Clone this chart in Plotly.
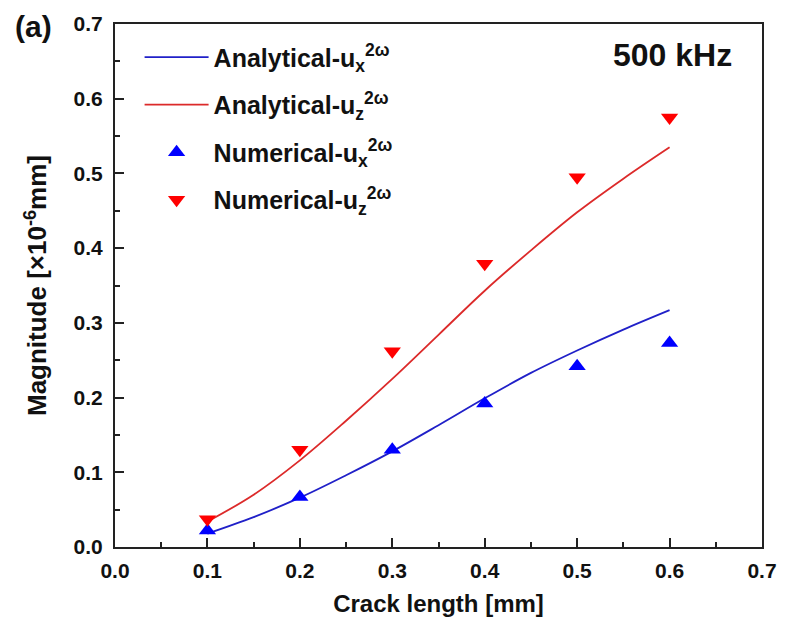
import plotly.graph_objects as go

# Analytical curves
x_line = [0.1, 0.15, 0.2, 0.25, 0.3, 0.35, 0.4, 0.45, 0.5, 0.55, 0.6]
ana_ux = [0.018, 0.040, 0.066, 0.096, 0.128, 0.163, 0.199, 0.233, 0.263, 0.291, 0.317]
ana_uz = [0.034, 0.070, 0.116, 0.169, 0.225, 0.284, 0.343, 0.397, 0.448, 0.493, 0.535]

# Numerical points
x_num = [0.1, 0.2, 0.3, 0.4, 0.5, 0.6]
num_ux = [0.022, 0.067, 0.130, 0.192, 0.242, 0.273]
num_uz = [0.037, 0.130, 0.262, 0.379, 0.495, 0.575]

x_ticks = [0.0, 0.1, 0.2, 0.3, 0.4, 0.5, 0.6, 0.7]
y_ticks = [0.0, 0.1, 0.2, 0.3, 0.4, 0.5, 0.6, 0.7]

FONT = "Liberation Sans, Arial, sans-serif"

fig = go.Figure()
fig.add_trace(go.Scatter(x=x_line, y=ana_ux, mode="lines", legendgroup="a",
                         line=dict(color="#2020c8", width=1.8, shape="spline"),
                         name="<b>Analytical-u<sub>x</sub><sup>2ω</sup></b>"))
fig.add_trace(go.Scatter(x=x_line, y=ana_uz, mode="lines", legendgroup="b",
                         line=dict(color="#dc2a2a", width=1.8, shape="spline"),
                         name="<b>Analytical-u<sub>z</sub><sup>2ω</sup></b>"))
fig.add_trace(go.Scatter(x=x_num, y=num_ux, mode="markers", legendgroup="c",
                         marker=dict(symbol="triangle-up", color="#0000ff", size=15),
                         name="<b>Numerical-u<sub>x</sub><sup>2ω</sup></b>"))
fig.add_trace(go.Scatter(x=x_num, y=num_uz, mode="markers", legendgroup="d",
                         marker=dict(symbol="triangle-down", color="#ff0000", size=15),
                         name="<b>Numerical-u<sub>z</sub><sup>2ω</sup></b>"))

axis_common = dict(
    showgrid=False, zeroline=False, showline=True, linecolor="#222", linewidth=2, mirror=True,
    ticks="inside", ticklen=9, tickwidth=2, tickcolor="#222",
    tickfont=dict(family=FONT, size=21, color="#111"),
    minor=dict(ticks="inside", ticklen=5, tickwidth=2, tickcolor="#222", dtick=0.05),
)

fig.update_xaxes(range=[0, 0.7], tickvals=x_ticks, ticktext=["<b>%.1f</b>" % v for v in x_ticks],
                 ticklabelstandoff=4,
                 title=dict(text="<b>Crack length [mm]</b>", font=dict(family=FONT, size=24, color="#111"), standoff=14),
                 **axis_common)
fig.update_yaxes(range=[0, 0.7], tickvals=y_ticks, ticktext=["<b>%.1f</b>" % v for v in y_ticks],
                 ticklabelstandoff=6,
                 title=dict(text="<b>Magnitude [×10<sup>-6</sup>mm]</b>", font=dict(family=FONT, size=26, color="#111"), standoff=19),
                 **axis_common)

fig.update_layout(
    width=789, height=631,
    margin=dict(l=115, r=19, t=21, b=84),
    plot_bgcolor="white", paper_bgcolor="white",
    font=dict(family=FONT, color="#111"),
    legend=dict(x=0.038, y=0.98, xanchor="left", yanchor="top", bgcolor="rgba(0,0,0,0)",
                font=dict(family=FONT, size=25, color="#111"), itemwidth=64, tracegroupgap=12),
    annotations=[
        dict(text="<b>(a)</b>", x=-0.158, y=1.03, xref="paper", yref="paper", showarrow=False,
             xanchor="left", yanchor="top", font=dict(family=FONT, size=30, color="#111")),
        dict(text="<b>500 kHz</b>", x=0.603, y=0.659, xref="x", yref="y", showarrow=False,
             xanchor="center", yanchor="middle", font=dict(family=FONT, size=32, color="#111")),
    ],
)

fig.write_html("out.html")
